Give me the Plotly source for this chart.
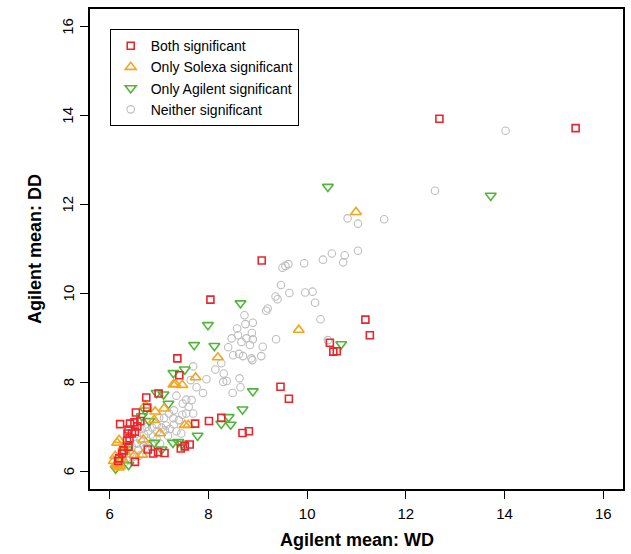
import plotly.graph_objects as go

# ---- data ----
both_x = [12.68, 15.44, 9.08, 8.04, 11.18, 11.27, 10.46, 10.53, 10.60, 9.46, 9.63,
          7.37, 7.41, 6.99, 6.74, 6.76, 6.53, 6.21, 6.41, 6.50, 6.62, 6.56, 6.38, 6.36,
          6.45, 6.51, 6.40, 6.35, 6.38, 6.28, 6.25, 6.19, 6.17, 6.51, 6.77, 6.88, 6.98,
          7.11, 7.44, 7.52, 7.62, 7.73, 8.01, 8.26, 8.69, 8.82]
both_y = [13.93, 13.72, 10.74, 9.86, 9.41, 9.06, 8.89, 8.69, 8.70, 7.90, 7.63,
          8.54, 8.16, 7.75, 7.66, 7.43, 7.32, 7.06, 7.07, 7.10, 7.13, 7.01, 6.94, 6.85,
          6.85, 6.89, 6.74, 6.68, 6.55, 6.47, 6.40, 6.29, 6.23, 6.21, 6.49, 6.40, 6.43,
          6.41, 6.51, 6.56, 6.60, 7.07, 7.13, 7.20, 6.86, 6.90]

solexa_x = [10.99, 9.83, 8.19, 7.74, 7.29, 7.33, 7.47, 7.10, 6.92, 6.90, 6.72, 7.52,
            7.59, 7.02, 6.68, 6.19, 6.28, 6.11, 6.08, 6.21, 6.50, 6.66, 6.15, 6.15,
            6.18, 6.13, 6.25, 6.30]
solexa_y = [11.83, 9.18, 8.56, 8.11, 7.95, 7.96, 7.94, 7.41, 7.34, 7.15, 7.48, 7.04,
            7.04, 6.85, 6.71, 6.70, 6.55, 6.34, 6.23, 6.11, 6.36, 6.37, 6.64, 6.14,
            6.08, 6.16, 6.27, 6.45]

agilent_x = [10.42, 13.72, 8.65, 7.99, 7.71, 8.12, 7.29, 7.52, 10.69, 8.90, 8.69,
             6.95, 7.09, 7.19, 6.72, 6.65, 8.26, 8.41, 8.45, 7.78, 6.90, 7.28, 7.39,
             7.47, 7.05, 6.12, 6.38, 6.80, 6.35]
agilent_y = [12.40, 12.20, 9.78, 9.29, 8.84, 8.82, 8.21, 8.29, 8.86, 7.80, 7.39,
             7.76, 7.73, 7.52, 7.37, 7.24, 7.07, 7.22, 7.05, 6.80, 6.64, 6.64, 6.66,
             6.62, 6.49, 6.06, 6.14, 7.13, 6.49]

neither_x = [14.02, 12.59, 10.82, 11.03, 11.56, 9.50, 9.62, 9.56, 9.94, 10.32, 10.50,
             10.76, 10.73, 11.03, 9.47, 9.64, 9.96, 10.11, 9.36, 9.40, 10.16, 10.27,
             9.20, 9.17, 9.37, 10.42, 9.10, 9.07, 8.87, 8.73, 8.90, 8.75, 8.58, 8.47,
             8.60, 8.67, 8.77, 8.88, 8.90, 8.40, 8.50, 8.62, 8.84, 8.70, 8.89, 8.26,
             8.14, 8.31, 8.37, 8.63, 8.65, 8.30, 7.69, 7.96, 7.64, 7.76, 7.89, 7.66,
             7.48, 7.30, 7.29, 7.69, 7.47, 7.14, 8.49, 7.35, 7.55,
             6.45, 6.55, 6.62, 6.70, 6.78, 6.86, 6.95, 6.58, 6.68, 6.78, 6.88, 6.96,
             7.05, 7.12, 6.42, 6.35, 6.28, 6.48, 6.60, 6.72, 6.85, 6.95, 7.02, 7.18,
             7.22, 7.30, 7.40, 6.30, 6.22, 6.40, 7.35, 7.55, 7.10, 7.20, 6.75, 6.65,
             7.00, 7.45, 7.60]
neither_y = [13.66, 12.31, 11.69, 11.57, 11.67, 10.58, 10.66, 10.62, 10.68, 10.76, 10.90,
             10.86, 10.70, 10.96, 10.19, 10.01, 10.02, 10.04, 9.93, 9.87, 9.79, 9.42,
             9.66, 9.61, 8.97, 8.95, 8.80, 8.59, 8.54, 9.51, 9.34, 9.31, 9.21, 8.99,
             9.06, 8.91, 8.99, 9.11, 8.97, 8.79, 8.61, 8.64, 8.84, 8.59, 8.50, 8.43,
             8.29, 8.20, 8.03, 8.09, 7.89, 8.01, 8.36, 8.07, 8.05, 7.89, 7.76, 7.60,
             7.52, 7.37, 7.19, 7.30, 7.27, 7.03, 7.76, 7.70, 7.61,
             6.55, 6.62, 6.70, 6.82, 6.90, 6.98, 7.05, 6.48, 6.58, 6.68, 6.78, 6.90,
             6.98, 6.92, 6.40, 6.30, 6.35, 6.32, 6.35, 6.52, 6.60, 6.72, 6.62, 6.80,
             6.95, 7.05, 7.15, 6.20, 6.15, 6.25, 6.90, 7.30, 7.20, 7.30, 7.00, 6.95,
             7.20, 6.85, 7.45]

tick_vals = [6, 8, 10, 12, 14, 16]
tick_text = ["6", "8", "10", "12", "14", "16"]

RED = "#e8262b"
ORANGE = "#f5a41c"
GREEN = "#52b53a"
GREY = "#bdbdbd"
FONT = "Liberation Sans, Arial, sans-serif"

fig = go.Figure()
fig.add_trace(go.Scatter(
    x=neither_x, y=neither_y, mode="markers", name="Neither significant", legendrank=4,
    marker=dict(symbol="circle-open", size=7.5, color=GREY, line=dict(width=1.1, color=GREY))))
fig.add_trace(go.Scatter(
    x=agilent_x, y=agilent_y, mode="markers", name="Only Agilent significant", legendrank=3,
    marker=dict(symbol="triangle-down-open", size=9.5, color=GREEN, line=dict(width=1.6, color=GREEN))))
fig.add_trace(go.Scatter(
    x=solexa_x, y=solexa_y, mode="markers", name="Only Solexa significant", legendrank=2,
    marker=dict(symbol="triangle-up-open", size=9.5, color=ORANGE, line=dict(width=1.6, color=ORANGE))))
fig.add_trace(go.Scatter(
    x=both_x, y=both_y, mode="markers", name="Both significant", legendrank=1,
    marker=dict(symbol="square-open", size=7, color=RED, line=dict(width=1.6, color=RED))))

axis_common = dict(
    range=[5.6, 16.4], tickmode="array", tickvals=tick_vals, ticktext=tick_text,
    showgrid=False, zeroline=False, showline=True, linecolor="black", linewidth=1.5,
    mirror=True, ticks="outside", ticklen=8, tickwidth=1.3, tickcolor="black",
    tickfont=dict(family=FONT, size=15, color="black"),
)

# rotated y tick labels (R style), placed at the y-axis tick values
ytick_annotations = [
    dict(text=t, xref="paper", yref="y", x=0, y=v, xanchor="center", yanchor="middle",
         xshift=-22, textangle=-90, showarrow=False,
         font=dict(family=FONT, size=15, color="black"))
    for v, t in zip(tick_vals, tick_text)
]

fig.update_layout(
    width=631, height=554,
    margin=dict(l=90, r=6, t=9, b=65),
    plot_bgcolor="white", paper_bgcolor="white",
    xaxis=dict(**axis_common, ticklabelstandoff=2),
    yaxis=dict(**axis_common, showticklabels=False),
    showlegend=True,
    legend=dict(
        x=0.037, y=0.958, xanchor="left", yanchor="top",
        bordercolor="black", borderwidth=1, bgcolor="white",
        font=dict(family=FONT, size=14, color="black"),
        tracegroupgap=0, itemsizing="trace",
    ),
    annotations=[
        dict(text="<b>Agilent mean: WD</b>", xref="paper", yref="paper", x=0.5, y=0,
             xanchor="center", yanchor="middle", yshift=-51, showarrow=False,
             font=dict(family=FONT, size=18, color="black")),
        dict(text="<b>Agilent mean: DD</b>", xref="paper", yref="paper", x=0, y=0.5,
             xanchor="center", yanchor="middle", xshift=-55, textangle=-90, showarrow=False,
             font=dict(family=FONT, size=18, color="black")),
    ] + ytick_annotations,
)

fig.write_html("out.html", config={"displayModeBar": False},
               post_script="document.body.style.margin='0';")
